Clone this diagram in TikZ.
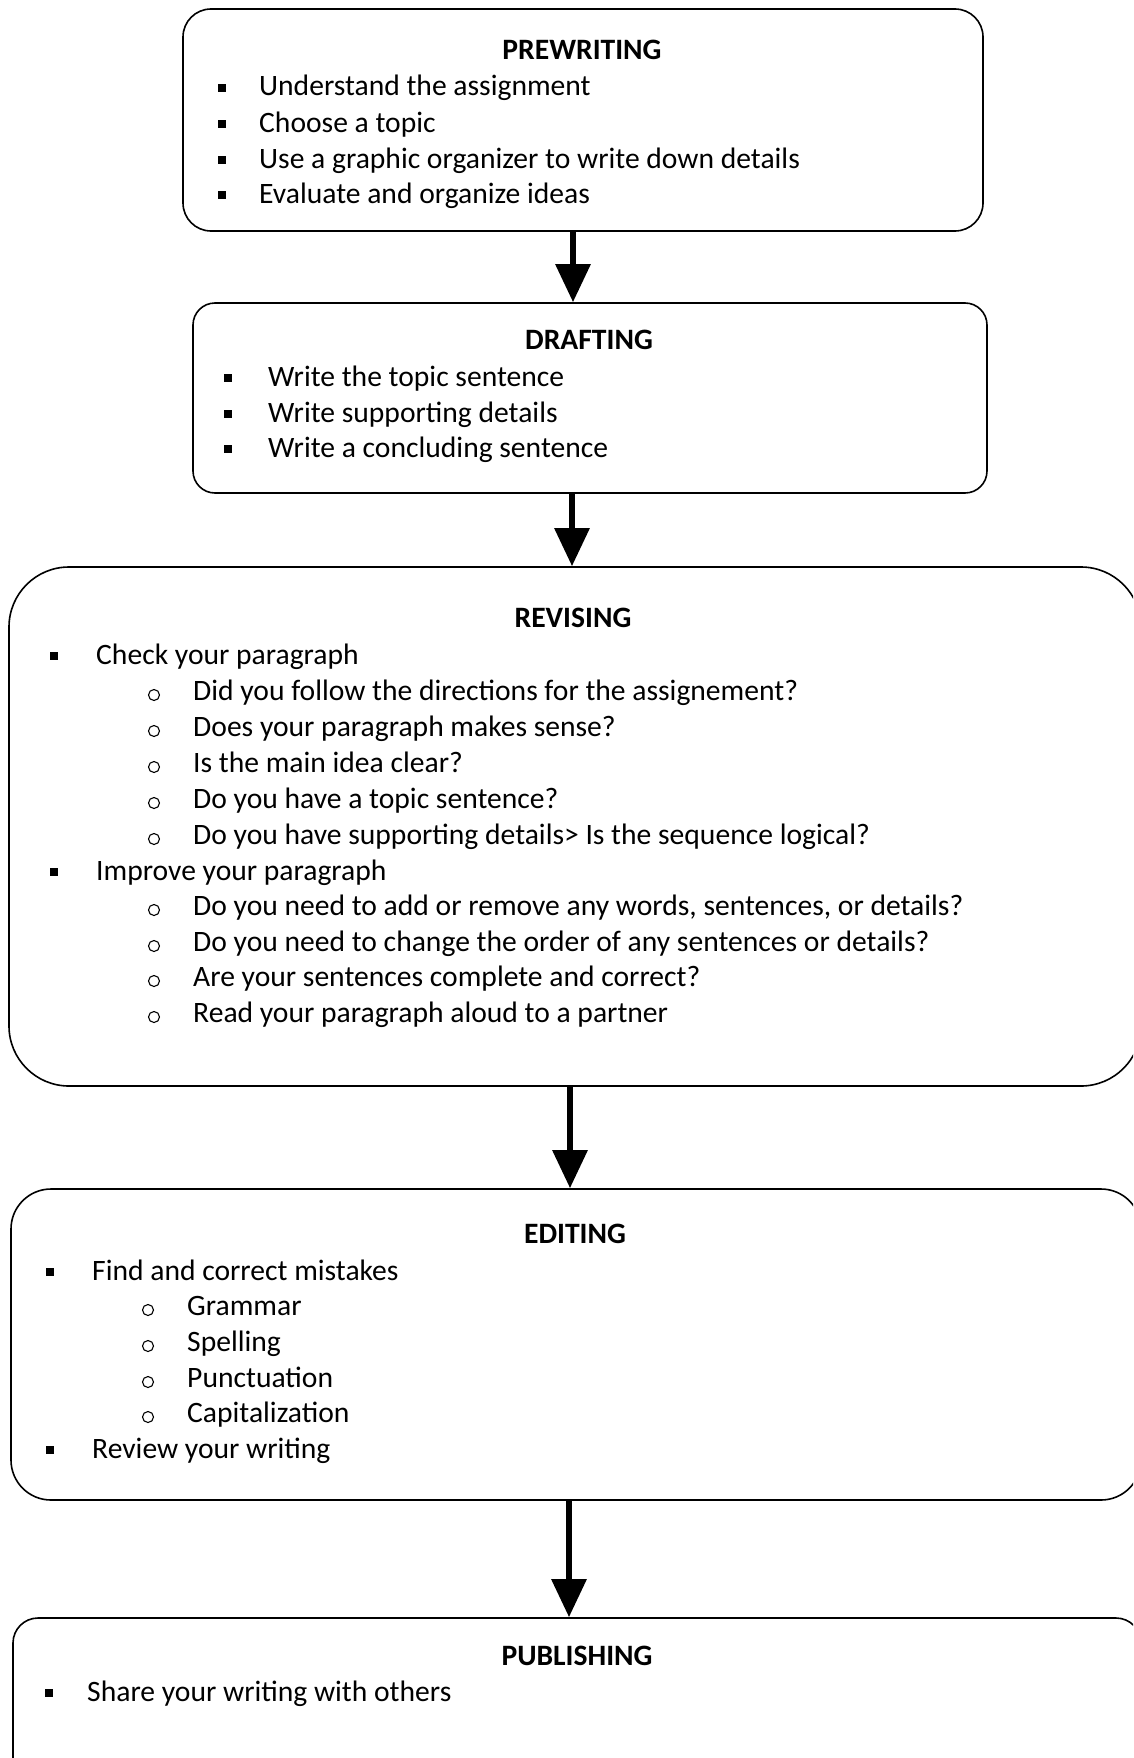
\documentclass[tikz,border=0pt]{standalone}
\usepackage{fontspec}
\setmainfont{Carlito}
\usetikzlibrary{arrows.meta}
\begin{document}
\begin{tikzpicture}[x=1pt,y=-1pt,
  box/.style={draw, line width=1.6pt, rounded corners=#1, inner sep=0pt},
  ttl/.style={font=\fontsize{29.6}{36}\selectfont\bfseries, inner sep=0pt, text height=21pt, text depth=6pt, yshift=-3.5pt},
  itm/.style={anchor=west, font=\fontsize{29.6}{36}\selectfont, inner sep=0pt, text height=21pt, text depth=6pt, yshift=-3.5pt},
  sq/.style={fill=black, minimum size=8pt, inner sep=0pt, yshift=-3pt},
  ci/.style={circle, draw, line width=1.1pt, minimum size=11pt, inner sep=0pt, yshift=-4pt},
  arr/.style={line width=6pt, -{Triangle[length=38pt,width=34pt]}}
]
\useasboundingbox (0,0) rectangle (1133,1758);
\clip (0,0) rectangle (1133,1758);
\fill[white] (0,0) rectangle (1133,1758);

% boxes
\node[box=28pt, minimum width=800pt, minimum height=222pt] (pre) at (583,120) {};
\node[box=22pt, minimum width=794pt, minimum height=190pt] (draft) at (590,398) {};
\node[box=60pt, minimum width=1132pt, minimum height=519pt] (rev) at (575,826.5) {};
\node[box=40pt, minimum width=1130pt, minimum height=311pt] (edit) at (576,1344.5) {};
\node[box=25pt, minimum width=1128pt, minimum height=182pt] (pub) at (577,1709) {};

% titles
\node[ttl] (preT) at (582,49) {PREWRITING};
\node[ttl] (draftT) at (589,338) {DRAFTING};
\node[ttl] (revT) at (573,616) {REVISING};
\node[ttl] (editT) at (575,1232) {EDITING};
\node[ttl] (pubT) at (577,1654) {PUBLISHING};

% prewriting items
\foreach \t/\y [count=\i] in {Understand the assignment/85, Choose a topic/121, Use a graphic organizer to write down details/157, Evaluate and organize ideas/192}{
  \node[sq] (preB\i) at (222,\y) {};
  \node[itm] (preI\i) at (259,\y) {\t};
}
% drafting items
\foreach \t/\y [count=\i] in {Write the topic sentence/375, Write supporting details/411, Write a concluding sentence/446}{
  \node[sq] (draftB\i) at (228,\y) {};
  \node[itm] (draftI\i) at (268,\y) {\t};
}
% revising
\node[sq] (revB1) at (54,653) {};
\node[itm] (revI1) at (96,653) {Check your paragraph};
\foreach \t/\y [count=\i] in {Did you follow the directions for the assignement?/689, Does your paragraph makes sense?/725, Is the main idea clear?/761, Do you have a topic sentence?/797, Do you have supporting details> Is the sequence logical?/833}{
  \node[ci] (revCa\i) at (154,\y+2) {};
  \node[itm] (revJa\i) at (193,\y) {\t};
}
\node[sq] (revB2) at (54,869) {};
\node[itm] (revI2) at (96,869) {Improve your paragraph};
\foreach \t/\y [count=\i] in {{Do you need to add or remove any words, sentences, or details?}/904, Do you need to change the order of any sentences or details?/940, Are your sentences complete and correct?/975, Read your paragraph aloud to a partner/1011}{
  \node[ci] (revCb\i) at (154,\y+2) {};
  \node[itm] (revJb\i) at (193,\y) {\t};
}
% editing
\node[sq] (editB1) at (50,1269) {};
\node[itm] (editI1) at (92,1269) {Find and correct mistakes};
\foreach \t/\y [count=\i] in {Grammar/1304, Spelling/1340, Punctuation/1376, Capitalization/1411}{
  \node[ci] (editC\i) at (148,\y+2) {};
  \node[itm] (editJ\i) at (187,\y) {\t};
}
\node[sq] (editB2) at (50,1447) {};
\node[itm] (editI2) at (92,1447) {Review your writing};
% publishing
\node[sq] (pubB1) at (49,1690) {};
\node[itm] (pubI1) at (87,1690) {Share your writing with others};

% arrows
\draw[arr] ([xshift=-10pt]pre.south) -- ([xshift=-17pt]draft.north);
\draw[arr] ([xshift=-18pt]draft.south) -- ([xshift=-3pt]rev.north);
\draw[arr] ([xshift=-5pt]rev.south) -- ([xshift=-6pt]edit.north);
\draw[arr] ([xshift=-7pt]edit.south) -- ([xshift=-8pt]pub.north);
\end{tikzpicture}
\end{document}
